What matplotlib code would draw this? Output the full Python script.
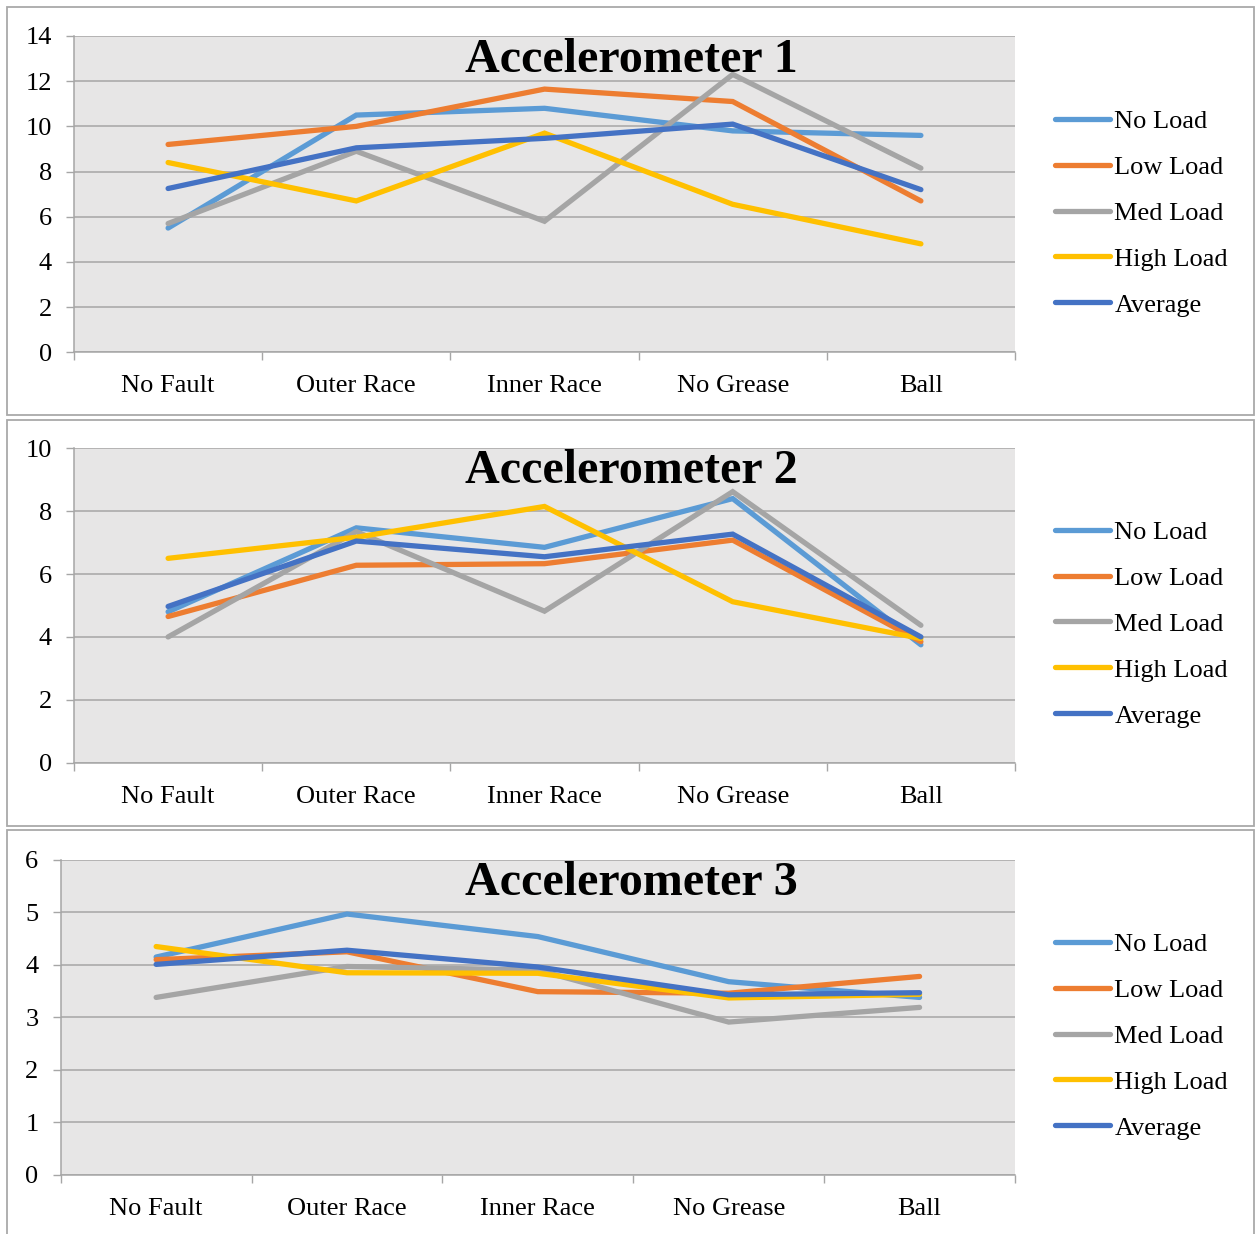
import matplotlib
matplotlib.use('Agg')
import matplotlib.pyplot as plt
from matplotlib.patches import Rectangle

plt.rcParams['font.family'] = ['Liberation Serif', 'DejaVu Serif']

faults = ['No Fault', 'Outer Race', 'Inner Race', 'No Grease', 'Ball']
loads = ['No Load', 'Low Load', 'Med Load', 'High Load', 'Average']
colors = ['#5B9BD5', '#ED7D31', '#A5A5A5', '#FFC000', '#4472C4']

# accelerometer 1
acc1_no_load = [5.5, 10.5, 10.8, 9.8, 9.6]
acc1_low_load = [9.2, 10.0, 11.65, 11.1, 6.7]
acc1_med_load = [5.7, 8.9, 5.8, 12.3, 8.15]
acc1_high_load = [8.4, 6.7, 9.7, 6.55, 4.8]
acc1_average = [7.25, 9.05, 9.47, 10.1, 7.2]

# accelerometer 2
acc2_no_load = [4.8, 7.47, 6.85, 8.4, 3.75]
acc2_low_load = [4.65, 6.28, 6.33, 7.08, 3.85]
acc2_med_load = [4.0, 7.35, 4.82, 8.62, 4.37]
acc2_high_load = [6.5, 7.17, 8.15, 5.12, 3.95]
acc2_average = [4.97, 7.05, 6.55, 7.27, 4.0]

# accelerometer 3
acc3_no_load = [4.15, 4.97, 4.54, 3.68, 3.38]
acc3_low_load = [4.1, 4.25, 3.49, 3.46, 3.78]
acc3_med_load = [3.38, 3.97, 3.9, 2.91, 3.19]
acc3_high_load = [4.35, 3.85, 3.84, 3.37, 3.44]
acc3_average = [4.01, 4.28, 3.96, 3.43, 3.47]

panels = [
    ('Accelerometer 1', [acc1_no_load, acc1_low_load, acc1_med_load, acc1_high_load, acc1_average], 14, 2),
    ('Accelerometer 2', [acc2_no_load, acc2_low_load, acc2_med_load, acc2_high_load, acc2_average], 10, 2),
    ('Accelerometer 3', [acc3_no_load, acc3_low_load, acc3_med_load, acc3_high_load, acc3_average], 6, 1),
]

W, H = 1255, 1234
fig = plt.figure(figsize=(W / 100, H / 100), dpi=100)

def frac(l, t, r, b):
    return [l / W, 1 - b / H, (r - l) / W, (b - t) / H]

# pixel boxes: frame, plot area, title centre, legend anchor
frames = [(7, 7, 1254, 415), (7, 420, 1254, 826), (7, 830, 1254, 1240)]
plot_areas = [(74, 36, 1015, 352.3), (74, 448.3, 1015, 762.7), (60.7, 860, 1015, 1174.7)]
title_y = [60, 471, 883]
legend_y = [213, 624, 1036]

grid_c = '#a6a6a6'
for (title, series, ymax, step), fr, pa, ty, ly in zip(panels, frames, plot_areas, title_y, legend_y):
    fig.add_artist(Rectangle((fr[0] / W, 1 - fr[3] / H), (fr[2] - fr[0]) / W, (fr[3] - fr[1]) / H,
                             transform=fig.transFigure, fill=False, edgecolor='#a9a9a9', lw=1.3))
    ax = fig.add_axes(frac(*pa))
    ax.set_facecolor('#e7e6e6')
    x = [i + 0.5 for i in range(len(faults))]
    for vals, name, c in zip(series, loads, colors):
        ax.plot(x, vals, color=c, lw=3.8, label=name, solid_capstyle='round', solid_joinstyle='miter')
    ax.set_xlim(0, len(faults))
    ax.set_ylim(0, ymax)
    ax.set_yticks(range(0, ymax + 1, step))
    ax.set_xticks(range(len(faults) + 1))
    ax.set_xticklabels([])
    ax.set_xticks(x, minor=True)
    ax.set_xticklabels(faults, minor=True)
    ax.tick_params(axis='x', which='major', length=6, width=1, color=grid_c)
    ax.tick_params(axis='x', which='minor', length=0, pad=16.5, labelsize=19)
    ax.tick_params(axis='y', length=6, width=1, color=grid_c, pad=10, labelsize=19)
    ax.grid(axis='y', color=grid_c, lw=1.1)
    ax.set_axisbelow(True)
    for s in ['top', 'right']:
        ax.spines[s].set_visible(False)
    for s in ['left', 'bottom']:
        ax.spines[s].set_color(grid_c)
        ax.spines[s].set_linewidth(1.1)
    fig.text(631 / W, 1 - ty / H, title, ha='center', va='center', fontsize=34.6, fontweight='bold')
    ax.legend(loc='center left', bbox_to_anchor=(1055 / W, 1 - ly / H), bbox_transform=fig.transFigure,
              frameon=False, fontsize=19, handlelength=2.1, handletextpad=0.15, labelspacing=0.85,
              borderpad=0, borderaxespad=0)

fig.savefig('out.png', dpi=100)
